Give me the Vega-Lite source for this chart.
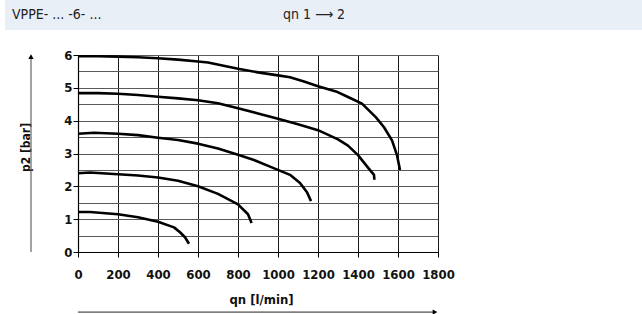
{
  "$schema": "https://vega.github.io/schema/vega-lite/v6.json",
  "width": 360,
  "height": 197,
  "autosize": {"type": "none"},
  "padding": {"left": 78, "top": 55, "right": 204, "bottom": 62},
  "background": "white",
  "config": {"view": {"stroke": null}, "font": "DejaVu Sans Condensed"},
  "resolve": {"axis": {"x": "independent", "y": "independent"}},
  "layer": [
    {
      "data": {"values": [
        {"s": 6, "o": 1, "q": 0, "p": 5.96}, {"s": 6, "o": 2, "q": 100, "p": 5.96}, {"s": 6, "o": 3, "q": 200, "p": 5.95},
        {"s": 6, "o": 4, "q": 300, "p": 5.93}, {"s": 6, "o": 5, "q": 400, "p": 5.9}, {"s": 6, "o": 6, "q": 500, "p": 5.86},
        {"s": 6, "o": 7, "q": 600, "p": 5.8}, {"s": 6, "o": 8, "q": 650, "p": 5.77}, {"s": 6, "o": 9, "q": 800, "p": 5.58},
        {"s": 6, "o": 10, "q": 900, "p": 5.47}, {"s": 6, "o": 11, "q": 1000, "p": 5.38}, {"s": 6, "o": 12, "q": 1060, "p": 5.32},
        {"s": 6, "o": 13, "q": 1130, "p": 5.19}, {"s": 6, "o": 14, "q": 1200, "p": 5.05}, {"s": 6, "o": 15, "q": 1290, "p": 4.89},
        {"s": 6, "o": 16, "q": 1350, "p": 4.72}, {"s": 6, "o": 17, "q": 1420, "p": 4.52}, {"s": 6, "o": 18, "q": 1490, "p": 4.1},
        {"s": 6, "o": 19, "q": 1530, "p": 3.8}, {"s": 6, "o": 20, "q": 1570, "p": 3.4}, {"s": 6, "o": 21, "q": 1595, "p": 2.95},
        {"s": 6, "o": 22, "q": 1610, "p": 2.5},
        {"s": 5, "o": 1, "q": 0, "p": 4.84}, {"s": 5, "o": 2, "q": 100, "p": 4.84}, {"s": 5, "o": 3, "q": 200, "p": 4.82},
        {"s": 5, "o": 4, "q": 300, "p": 4.78}, {"s": 5, "o": 5, "q": 400, "p": 4.73}, {"s": 5, "o": 6, "q": 500, "p": 4.68},
        {"s": 5, "o": 7, "q": 600, "p": 4.62}, {"s": 5, "o": 8, "q": 700, "p": 4.53}, {"s": 5, "o": 9, "q": 800, "p": 4.38},
        {"s": 5, "o": 10, "q": 900, "p": 4.22}, {"s": 5, "o": 11, "q": 1000, "p": 4.06}, {"s": 5, "o": 12, "q": 1100, "p": 3.89},
        {"s": 5, "o": 13, "q": 1200, "p": 3.71}, {"s": 5, "o": 14, "q": 1300, "p": 3.43}, {"s": 5, "o": 15, "q": 1350, "p": 3.24},
        {"s": 5, "o": 16, "q": 1400, "p": 2.95}, {"s": 5, "o": 17, "q": 1450, "p": 2.57}, {"s": 5, "o": 18, "q": 1480, "p": 2.35},
        {"s": 5, "o": 19, "q": 1482, "p": 2.2},
        {"s": 4, "o": 1, "q": 0, "p": 3.6}, {"s": 4, "o": 2, "q": 80, "p": 3.63}, {"s": 4, "o": 3, "q": 200, "p": 3.6},
        {"s": 4, "o": 4, "q": 300, "p": 3.56}, {"s": 4, "o": 5, "q": 400, "p": 3.48}, {"s": 4, "o": 6, "q": 500, "p": 3.41},
        {"s": 4, "o": 7, "q": 600, "p": 3.3}, {"s": 4, "o": 8, "q": 700, "p": 3.15}, {"s": 4, "o": 9, "q": 800, "p": 2.96},
        {"s": 4, "o": 10, "q": 880, "p": 2.8}, {"s": 4, "o": 11, "q": 960, "p": 2.6}, {"s": 4, "o": 12, "q": 1060, "p": 2.35},
        {"s": 4, "o": 13, "q": 1110, "p": 2.1}, {"s": 4, "o": 14, "q": 1145, "p": 1.82}, {"s": 4, "o": 15, "q": 1165, "p": 1.55},
        {"s": 3, "o": 1, "q": 0, "p": 2.4}, {"s": 3, "o": 2, "q": 60, "p": 2.42}, {"s": 3, "o": 3, "q": 200, "p": 2.37},
        {"s": 3, "o": 4, "q": 300, "p": 2.33}, {"s": 3, "o": 5, "q": 400, "p": 2.27}, {"s": 3, "o": 6, "q": 500, "p": 2.17},
        {"s": 3, "o": 7, "q": 600, "p": 2.0}, {"s": 3, "o": 8, "q": 700, "p": 1.77}, {"s": 3, "o": 9, "q": 800, "p": 1.45},
        {"s": 3, "o": 10, "q": 850, "p": 1.15}, {"s": 3, "o": 11, "q": 868, "p": 0.88},
        {"s": 2, "o": 1, "q": 0, "p": 1.22}, {"s": 2, "o": 2, "q": 60, "p": 1.22}, {"s": 2, "o": 3, "q": 200, "p": 1.15},
        {"s": 2, "o": 4, "q": 300, "p": 1.06}, {"s": 2, "o": 5, "q": 400, "p": 0.92}, {"s": 2, "o": 6, "q": 480, "p": 0.75},
        {"s": 2, "o": 7, "q": 510, "p": 0.6}, {"s": 2, "o": 8, "q": 535, "p": 0.45}, {"s": 2, "o": 9, "q": 555, "p": 0.25}
      ]},
      "mark": {"type": "line", "color": "black", "strokeWidth": 2.6, "strokeJoin": "round"},
      "encoding": {
        "x": {
          "field": "q", "type": "quantitative",
          "scale": {"domain": [0, 1800], "nice": false},
          "axis": {
            "values": [0, 200, 400, 600, 800, 1000, 1200, 1400, 1600, 1800],
            "format": "d",
            "grid": true, "gridColor": "#1a1a1a", "gridWidth": 1,
            "domainColor": "black", "domainWidth": 1.2,
            "tickColor": "black", "tickSize": 5, "tickWidth": 1,
            "labelPadding": 11, "labelFontSize": 13, "labelFontWeight": "bold", "labelColor": "#111",
            "labelFlush": false, "labelFont": "DejaVu Sans Condensed",
            "title": "qn [l/min]", "titleFont": "DejaVu Sans Condensed", "titleFontSize": 13, "titleFontWeight": "bold",
            "titleX": 183, "titleY": 47, "titleAlign": "center", "titleBaseline": "middle", "titleColor": "#111"
          }
        },
        "y": {
          "field": "p", "type": "quantitative",
          "scale": {"domain": [0, 6], "nice": false},
          "axis": {
            "values": [0, 0.5, 1, 1.5, 2, 2.5, 3, 3.5, 4, 4.5, 5, 5.5, 6],
            "labelExpr": "datum.value % 1 === 0 ? format(datum.value, 'd') : ''",
            "tickOpacity": {"condition": {"test": "datum.value % 1 !== 0", "value": 0}, "value": 1},
            "grid": true, "gridColor": "#5a5a5a", "gridWidth": 1.2,
            "domainColor": "black", "domainWidth": 1.2,
            "tickColor": "black", "tickSize": 5, "tickWidth": 1,
            "labelPadding": 1, "labelFontSize": 13, "labelFontWeight": "bold", "labelColor": "#111",
            "labelFlush": false, "labelFont": "DejaVu Sans Condensed",
            "title": "p2 [bar]", "titleFont": "DejaVu Sans Condensed", "titleFontSize": 12, "titleFontWeight": "bold",
            "titleAngle": 270, "titleX": -53, "titleY": 92, "titleAlign": "center", "titleBaseline": "middle", "titleColor": "#111"
          }
        },
        "detail": {"field": "s", "type": "nominal"},
        "order": {"field": "o", "type": "quantitative"}
      }
    },
    {
      "data": {"values": [{"k": 1}]},
      "mark": {"type": "rect", "color": "#e9eff6"},
      "encoding": {
        "x": {"datum": -365, "type": "quantitative", "axis": null},
        "x2": {"datum": 2825},
        "y": {"datum": 6.76, "type": "quantitative", "axis": null},
        "y2": {"datum": 7.75}
      }
    },
    {
      "data": {"values": [{"k": 1}]},
      "mark": {"type": "rule", "color": "#666", "strokeWidth": 1.2},
      "encoding": {
        "x": {"datum": -235, "type": "quantitative", "axis": null},
        "y": {"datum": 0, "type": "quantitative", "axis": null},
        "y2": {"datum": 5.95}
      }
    },
    {
      "data": {"values": [{"k": 1}]},
      "mark": {"type": "point", "shape": "triangle-up", "filled": true, "color": "black", "size": 28, "opacity": 1},
      "encoding": {
        "x": {"datum": -235, "type": "quantitative", "axis": null},
        "y": {"datum": 5.95, "type": "quantitative", "axis": null}
      }
    },
    {
      "data": {"values": [{"k": 1}]},
      "mark": {"type": "rule", "color": "#222", "strokeWidth": 1},
      "encoding": {
        "x": {"datum": 0, "type": "quantitative", "axis": null},
        "x2": {"datum": 1780},
        "y": {"datum": -1.83, "type": "quantitative", "axis": null}
      }
    },
    {
      "data": {"values": [{"k": 1}]},
      "mark": {"type": "point", "shape": "triangle-right", "filled": true, "color": "black", "size": 28, "opacity": 1},
      "encoding": {
        "x": {"datum": 1785, "type": "quantitative", "axis": null},
        "y": {"datum": -1.83, "type": "quantitative", "axis": null}
      }
    },
    {
      "data": {"values": [{"t": "VPPE- ... -6- ..."}]},
      "mark": {"type": "text", "align": "left", "baseline": "middle", "fontSize": 14, "font": "DejaVu Sans Condensed", "color": "#222"},
      "encoding": {
        "text": {"field": "t"},
        "x": {"datum": -330, "type": "quantitative", "axis": null},
        "y": {"datum": 7.22, "type": "quantitative", "axis": null}
      }
    },
    {
      "data": {"values": [{"t": "qn 1 ⟶ 2"}]},
      "mark": {"type": "text", "align": "left", "baseline": "middle", "fontSize": 14, "font": "DejaVu Sans Condensed", "color": "#222"},
      "encoding": {
        "text": {"field": "t"},
        "x": {"datum": 1025, "type": "quantitative", "axis": null},
        "y": {"datum": 7.22, "type": "quantitative", "axis": null}
      }
    }
  ]
}
